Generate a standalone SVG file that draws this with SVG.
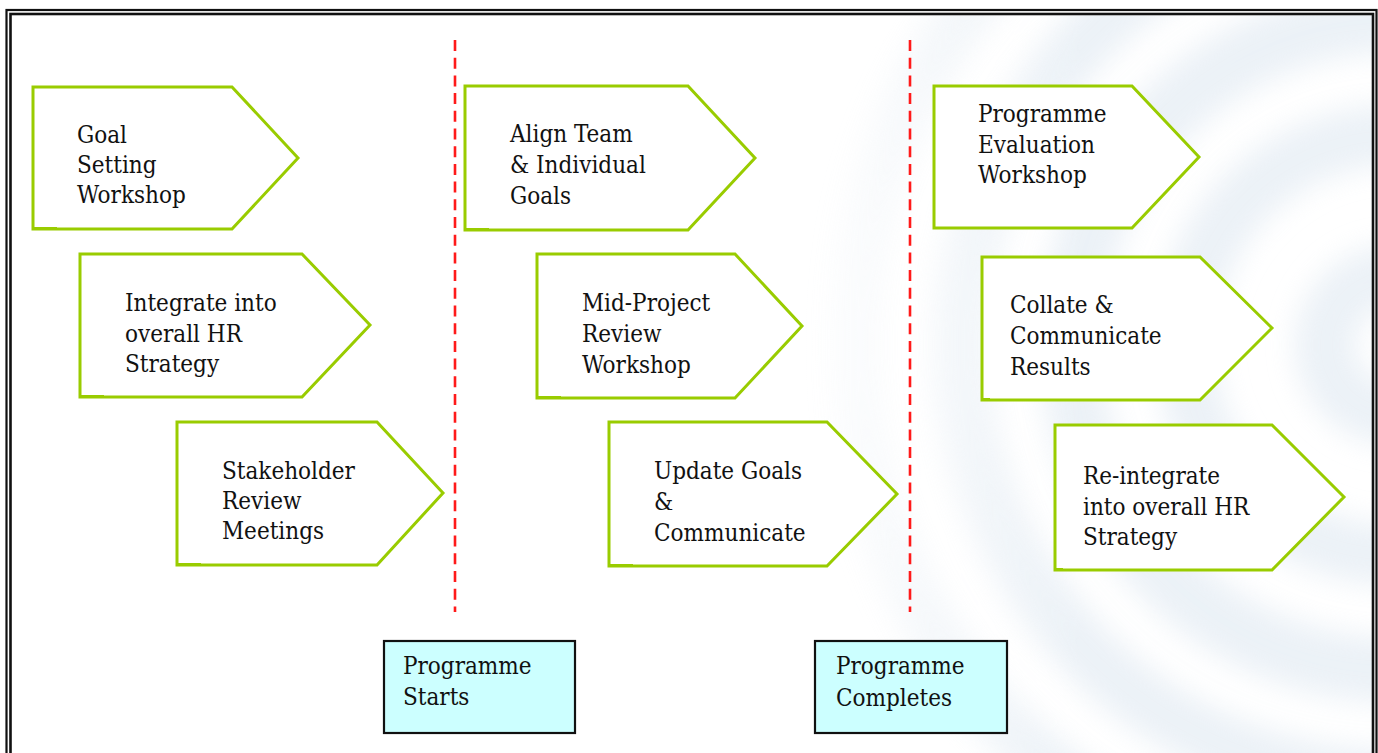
<svg xmlns="http://www.w3.org/2000/svg" width="1378" height="753" viewBox="0 0 1378 753">
  <defs>
    <style>
      .step { fill: #ffffff; stroke: #99cc00; stroke-width: 3; stroke-linejoin: miter; }
      .notch { stroke: #99cc00; stroke-width: 2; fill: none; }
      .lbl { font-family: 'DejaVu Serif Condensed', 'DejaVu Serif', 'Liberation Serif', serif; font-stretch: condensed; font-size: 24px; fill: #111111; }
      .milestone { fill: #ccffff; stroke: #111111; stroke-width: 2.2; }
      .divider { stroke: #ff1a1a; stroke-width: 2.6; stroke-dasharray: 11 6.7; fill: none; }
      .frame { fill: none; stroke: #111111; }
      .ring { fill: none; stroke: #e0e9f2; }
    </style>
    <clipPath id="inside">
      <rect x="12" y="15.5" width="1360" height="740"/>
    </clipPath>
    <filter id="soft" x="-20%" y="-20%" width="140%" height="140%">
      <feGaussianBlur stdDeviation="14"/>
    </filter>
    <linearGradient id="fadeLeft" x1="790" y1="0" x2="1080" y2="0" gradientUnits="userSpaceOnUse">
      <stop offset="0" stop-color="#000"/>
      <stop offset="1" stop-color="#fff"/>
    </linearGradient>
    <mask id="fadeMask">
      <rect x="0" y="0" width="1378" height="753" fill="url(#fadeLeft)"/>
    </mask>
  </defs>

  <!-- page background -->
  <rect x="0" y="0" width="1378" height="753" fill="#ffffff"/>

  <!-- faint concentric watermark behind the right-hand column -->
  <g id="watermark" clip-path="url(#inside)">
    <g mask="url(#fadeMask)" filter="url(#soft)" opacity="0.62">
      <circle class="ring" cx="1395" cy="345" r="70" stroke-width="60"/>
      <circle class="ring" cx="1395" cy="345" r="210" stroke-width="60"/>
      <circle class="ring" cx="1395" cy="345" r="325" stroke-width="65"/>
      <circle class="ring" cx="1395" cy="345" r="435" stroke-width="60"/>
      <circle class="ring" cx="1395" cy="345" r="545" stroke-width="55"/>
    </g>
  </g>

  <!-- double page frame -->
  <g id="frame">
    <rect class="frame" x="6.5" y="10" width="1370" height="760" stroke-width="2.2"/>
    <rect class="frame" x="10.5" y="14" width="1362.5" height="760" stroke-width="2.6"/>
  </g>

  <!-- phase dividers -->
  <g id="connectors">
    <line class="divider" x1="455" y1="40" x2="455" y2="612"/>
    <line class="divider" x1="910" y1="40" x2="910" y2="612"/>
  </g>

  <!-- phase 1 -->
  <g id="goal-setting">
    <path class="step" d="M33,87 H232 L298,158 L232,229 H33 Z"/>
    <line class="notch" x1="33" y1="228" x2="57" y2="228"/>
    <text class="lbl" x="77" y="143">Goal</text>
    <text class="lbl" x="77" y="173">Setting</text>
    <text class="lbl" x="77" y="203">Workshop</text>
  </g>
  <g id="integrate-hr">
    <path class="step" d="M80,254 H302 L370,325 L302,397 H80 Z"/>
    <line class="notch" x1="80" y1="396" x2="104" y2="396"/>
    <text class="lbl" x="125" y="311">Integrate into</text>
    <text class="lbl" x="125" y="341.5">overall HR</text>
    <text class="lbl" x="125" y="372">Strategy</text>
  </g>
  <g id="stakeholder-review">
    <path class="step" d="M177,422 H377 L443,493 L377,565 H177 Z"/>
    <line class="notch" x1="177" y1="564" x2="201" y2="564"/>
    <text class="lbl" x="222" y="479">Stakeholder</text>
    <text class="lbl" x="222" y="509">Review</text>
    <text class="lbl" x="222" y="539">Meetings</text>
  </g>

  <!-- phase 2 -->
  <g id="align-goals">
    <path class="step" d="M465,86 H688 L755,158 L688,230 H465 Z"/>
    <line class="notch" x1="465" y1="229" x2="489" y2="229"/>
    <text class="lbl" x="510" y="142">Align Team</text>
    <text class="lbl" x="510" y="173">&amp; Individual</text>
    <text class="lbl" x="510" y="204">Goals</text>
  </g>
  <g id="mid-project-review">
    <path class="step" d="M537,254 H735 L802,326 L735,398 H537 Z"/>
    <line class="notch" x1="537" y1="397" x2="561" y2="397"/>
    <text class="lbl" x="582" y="311">Mid-Project</text>
    <text class="lbl" x="582" y="342">Review</text>
    <text class="lbl" x="582" y="373">Workshop</text>
  </g>
  <g id="update-goals">
    <path class="step" d="M609,422 H827 L897,494 L827,566 H609 Z"/>
    <line class="notch" x1="609" y1="565" x2="633" y2="565"/>
    <text class="lbl" x="654" y="479">Update Goals</text>
    <text class="lbl" x="654" y="510">&amp;</text>
    <text class="lbl" x="654" y="541">Communicate</text>
  </g>

  <!-- phase 3 -->
  <g id="programme-evaluation">
    <path class="step" d="M934,86 H1132 L1199,157 L1132,228 H934 Z"/>
    <text class="lbl" x="978" y="122">Programme</text>
    <text class="lbl" x="978" y="152.5">Evaluation</text>
    <text class="lbl" x="978" y="183">Workshop</text>
  </g>
  <g id="collate-results">
    <path class="step" d="M982,257 H1200 L1272,328 L1200,400 H982 Z"/>
    <line class="notch" x1="982" y1="399" x2="990" y2="399"/>
    <text class="lbl" x="1010" y="313">Collate &amp;</text>
    <text class="lbl" x="1010" y="344">Communicate</text>
    <text class="lbl" x="1010" y="375">Results</text>
  </g>
  <g id="reintegrate-hr">
    <path class="step" d="M1055,425 H1272 L1344,497 L1272,570 H1055 Z"/>
    <line class="notch" x1="1055" y1="569" x2="1063" y2="569"/>
    <text class="lbl" x="1083" y="484">Re-integrate</text>
    <text class="lbl" x="1083" y="514.5">into overall HR</text>
    <text class="lbl" x="1083" y="545">Strategy</text>
  </g>

  <!-- milestones -->
  <g id="programme-starts">
    <rect class="milestone" x="384" y="641" width="191" height="92"/>
    <text class="lbl" x="403" y="674">Programme</text>
    <text class="lbl" x="403" y="705">Starts</text>
  </g>
  <g id="programme-completes">
    <rect class="milestone" x="815" y="641" width="192" height="92"/>
    <text class="lbl" x="836" y="674">Programme</text>
    <text class="lbl" x="836" y="706">Completes</text>
  </g>
</svg>
